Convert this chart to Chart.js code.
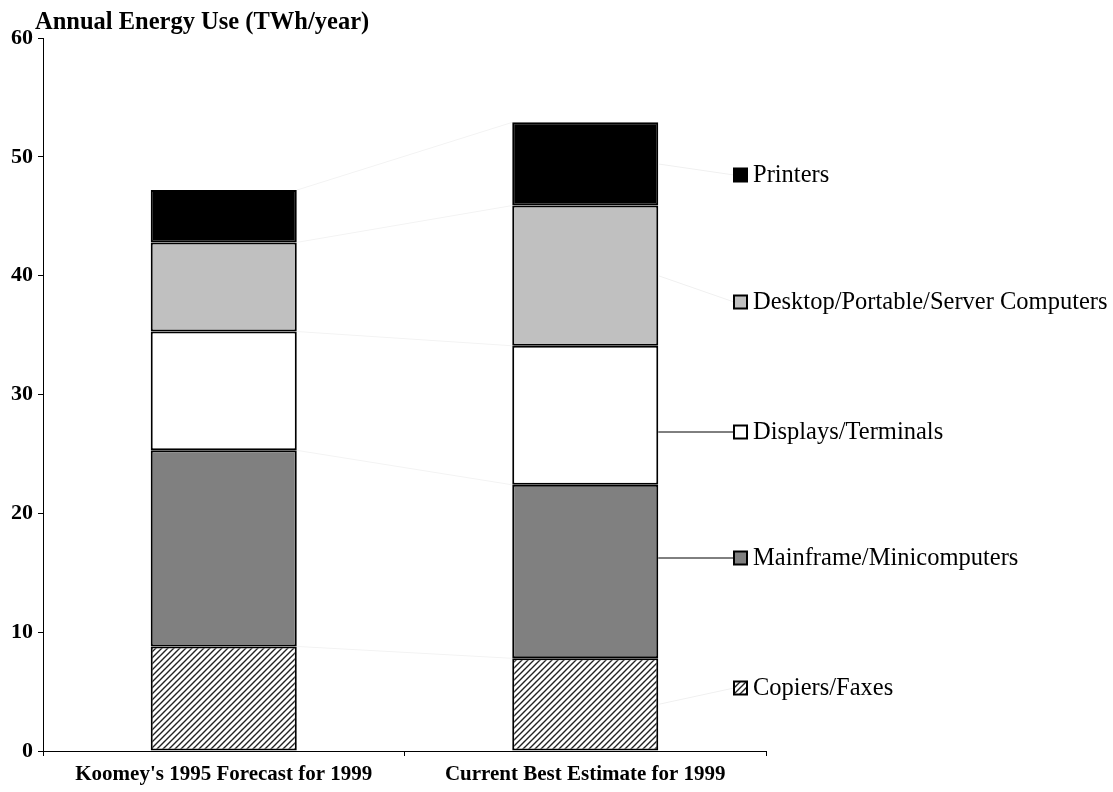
<!DOCTYPE html>
<html>
<head>
<meta charset="utf-8">
<script src="https://cdn.jsdelivr.net/npm/chart.js@4"></script>
<style>
  html, body { margin: 0; padding: 0; background: #fff; }
  #wrap { width: 1113px; height: 792px; position: relative; }
</style>
</head>
<body>
<div id="wrap"><canvas id="energyChart"></canvas></div>
<script>
// chart data
const categories = ["Koomey's 1995 Forecast for 1999", "Current Best Estimate for 1999"];
const copiers = [8.8, 7.8];
const mainframe = [16.5, 14.6];
const displays = [10.0, 11.7];
const desktop = [7.5, 11.8];
const printers = [4.4, 7.0];
const yTicks = [0, 10, 20, 30, 40, 50, 60];
const seriesNames = ["Copiers/Faxes", "Mainframe/Minicomputers", "Displays/Terminals",
  "Desktop/Portable/Server Computers", "Printers"];

// diagonal hatch for copiers
function makeHatch() {
  const c = document.createElement('canvas');
  c.width = 6; c.height = 6;
  const g = c.getContext('2d');
  g.fillStyle = '#fff';
  g.fillRect(0, 0, 6, 6);
  g.strokeStyle = '#222';
  g.lineWidth = 1.4;
  g.beginPath();
  g.moveTo(0, 6); g.lineTo(6, 0);
  g.moveTo(-1, 1); g.lineTo(1, -1);
  g.moveTo(5, 7); g.lineTo(7, 5);
  g.stroke();
  return g.createPattern(c, 'repeat');
}

document.addEventListener("DOMContentLoaded", function () {
  const ctx = document.getElementById('energyChart').getContext('2d');
  const hatch = makeHatch();
  const fills = [hatch, '#808080', '#ffffff', '#c0c0c0', '#000000'];
  const values = [copiers, mainframe, displays, desktop, printers];

  // title, series lines and the side legend
  const decor = {
    id: 'decor',
    beforeDatasetsDraw(chart) {
      const c = chart.ctx;
      c.save();
      c.strokeStyle = '#f3f3f3';
      c.lineWidth = 1;
      for (let i = 0; i < values.length; i++) {
        const bars = chart.getDatasetMeta(i).data;
        const a = bars[0], b = bars[1];
        c.beginPath();
        c.moveTo(a.x + a.width / 2, a.y);
        c.lineTo(b.x - b.width / 2, b.y);
        c.stroke();
      }
      c.restore();
    },
    afterDraw(chart) {
      const c = chart.ctx;
      c.save();
      c.fillStyle = '#000';
      c.font = 'bold 24.5px "Liberation Serif"';
      c.textBaseline = 'alphabetic';
      c.fillText('Annual Energy Use (TWh/year)', 35, 29);

      const legendY = [688, 558, 432, 302, 175];
      const boxX = 734, box = 13;
      for (let i = 0; i < values.length; i++) {
        const bar = chart.getDatasetMeta(i).data[1];
        const y = legendY[i];
        const mid = (bar.y + bar.base) / 2;
        // connector from second bar to legend box
        c.beginPath();
        const dark = (i === 1 || i === 2);
        c.strokeStyle = dark ? '#000' : '#f0f0f0';
        c.lineWidth = 1;
        c.moveTo(bar.x + bar.width / 2, dark ? y : mid);
        c.lineTo(boxX, y);
        c.stroke();

        c.fillStyle = fills[i];
        c.fillRect(boxX, y - box / 2, box, box);
        c.strokeStyle = '#000';
        c.lineWidth = 2;
        c.strokeRect(boxX, y - box / 2, box, box);

        c.fillStyle = '#000';
        c.font = '24.5px "Liberation Serif"';
        c.textBaseline = 'middle';
        c.fillText(seriesNames[i], boxX + 19, y + 1);
      }
      c.restore();
    }
  };

  new Chart(ctx, {
    type: 'bar',
    data: {
      labels: categories,
      datasets: values.map((v, i) => ({
        label: seriesNames[i],
        data: v,
        backgroundColor: fills[i],
        borderColor: '#000',
        borderWidth: 2,
        borderSkipped: false,
        categoryPercentage: 1,
        barPercentage: 0.404
      }))
    },
    options: {
      responsive: true,
      maintainAspectRatio: false,
      animation: false,
      layout: { padding: { top: 38, right: 347, left: 0, bottom: 0 } },
      plugins: {
        legend: { display: false },
        tooltip: { enabled: false }
      },
      scales: {
        x: {
          stacked: true,
          grid: { drawOnChartArea: false, tickLength: 5, color: '#000' },
          border: { display: true, color: '#000', width: 1 },
          ticks: {
            color: '#000',
            font: { family: 'Liberation Serif', size: 21, weight: 'bold' },
            padding: 6,
            maxRotation: 0
          },
          afterFit(scale) { scale.height = 41; }
        },
        y: {
          stacked: true,
          min: 0,
          max: 60,
          afterBuildTicks(scale) { scale.ticks = yTicks.map(v => ({ value: v })); },
          grid: { drawOnChartArea: false, tickLength: 5, color: '#000' },
          border: { display: true, color: '#000', width: 1 },
          ticks: {
            color: '#000',
            font: { family: 'Liberation Serif', size: 22, weight: 'bold' },
            padding: 5
          },
          afterFit(scale) { scale.width = 43; }
        }
      }
    },
    plugins: [decor]
  });
});
</script>
</body>
</html>
